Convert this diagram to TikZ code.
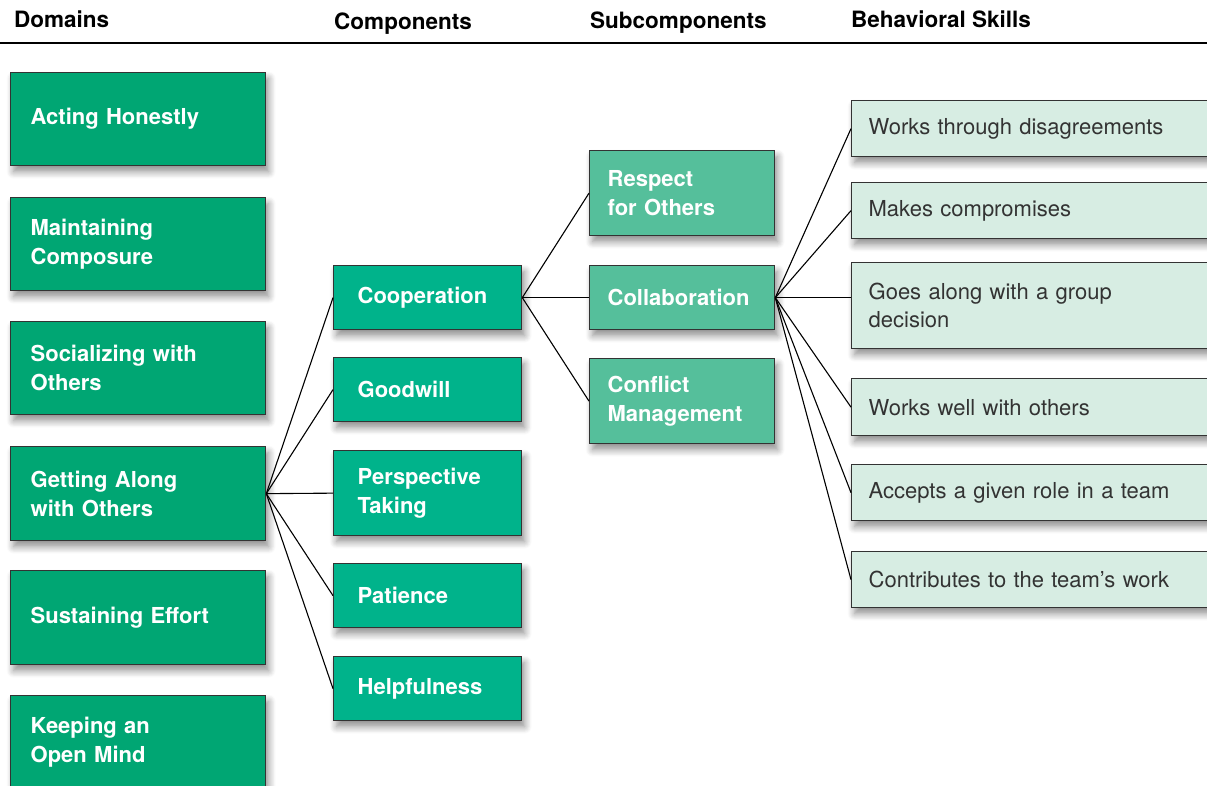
\documentclass[tikz,border=0pt]{standalone}
\usepackage{fontspec}
\setmainfont{TeX Gyre Heros}
\usetikzlibrary{shadows.blur}
\definecolor{domaingreen}{HTML}{00A673}
\definecolor{compgreen}{HTML}{00B38B}
\definecolor{subgreen}{HTML}{55BF9B}
\definecolor{skillgreen}{HTML}{D7EDE3}
\definecolor{edgegray}{HTML}{333333}
\begin{document}
\begin{tikzpicture}
[x=1pt,y=-1pt,
  boxdecorate/.style={draw=edgegray,line width=1.3pt,anchor=north west,align=left,
    inner ysep=0pt,font=\fontsize{22}{29}\selectfont\bfseries,text=white,
    blur shadow={shadow blur steps=8,shadow blur radius=7pt,shadow xshift=3pt,shadow yshift=-6pt,shadow opacity=45}},
  domaindecorate/.style={boxdecorate,fill=domaingreen,inner xsep=20pt,text width=215pt,minimum height=93pt},
  compdecorate/.style={boxdecorate,fill=compgreen,inner xsep=24pt,text width=140pt,minimum height=64pt},
  subdecorate/.style={boxdecorate,fill=subgreen,inner xsep=18pt,text width=149pt,minimum height=64pt},
  skilldecorate/.style={boxdecorate,fill=skillgreen,inner xsep=17pt,text width=330pt,minimum height=56pt,
    font=\fontsize{22}{28}\selectfont,text=edgegray},
  headdecorate/.style={anchor=base west,inner sep=0pt,font=\fontsize{22.5}{26}\selectfont\bfseries},
  linedecorate/.style={draw=black,line width=1.1pt}]
\useasboundingbox (0,0) rectangle (1207,786);
\clip (0,0) rectangle (1207,786);
% headings
\node (hdom) at (14,28) [headdecorate] {Domains};
\node (hcomp) at (334,30) [headdecorate] {Components};
\node (hsub) at (590,29) [headdecorate] {Subcomponents};
\node (hskill) at (851,28) [headdecorate] {Behavioral Skills};
\draw [line width=2pt] (0,43) -- (1207,43);
% domains
\node (honest) at (10,72) [domaindecorate,minimum height=93pt] {Acting Honestly};
\node (composure) at (10,197) [domaindecorate] {Maintaining\\Composure};
\node (socializing) at (10,321) [domaindecorate] {Socializing with\\Others};
\node (getalong) at (10,446) [domaindecorate,minimum height=94pt] {Getting Along\\with Others};
\node (effort) at (10,570) [domaindecorate,minimum height=94pt] {Sustaining Effort};
\node (openmind) at (10,695) [domaindecorate] {Keeping an\\Open Mind};
% components
\node (cooperation) at (333,265) [compdecorate] {Cooperation};
\node (goodwill) at (333,357) [compdecorate] {Goodwill};
\node (perspective) at (333,450) [compdecorate,minimum height=85pt] {Perspective\\Taking};
\node (patience) at (333,563) [compdecorate] {Patience};
\node (helpfulness) at (333,656) [compdecorate] {Helpfulness};
% subcomponents
\node (respect) at (589,150) [subdecorate,minimum height=85pt] {Respect\\for Others};
\node (collaboration) at (589,265) [subdecorate] {Collaboration};
\node (conflict) at (589,358) [subdecorate,minimum height=85pt] {Conflict\\Management};
% behavioral skills
\node (disagree) at (851,100) [skilldecorate] {Works through disagreements};
\node (compromise) at (851,182) [skilldecorate] {Makes compromises};
\node (groupdec) at (851,262) [skilldecorate,minimum height=86pt] {Goes along with a group\\decision};
\node (workswell) at (851,378) [skilldecorate,minimum height=57pt] {Works well with others};
\node (role) at (851,464) [skilldecorate] {Accepts a given role in a team};
\node (teamwork) at (851,551) [skilldecorate] {Contributes to the team's work};
% edges
\foreach \n in {cooperation,goodwill,perspective,patience,helpfulness}
  \draw [linedecorate] (getalong.east) -- (\n.west);
\foreach \n in {respect,collaboration,conflict}
  \draw [linedecorate] (cooperation.east) -- (\n.west);
\foreach \n in {disagree,compromise,workswell,role,teamwork}
  \draw [linedecorate] (collaboration.east) -- (\n.west);
\draw [linedecorate] (collaboration.east) -- (collaboration.east -| groupdec.west);
\end{tikzpicture}
\end{document}
